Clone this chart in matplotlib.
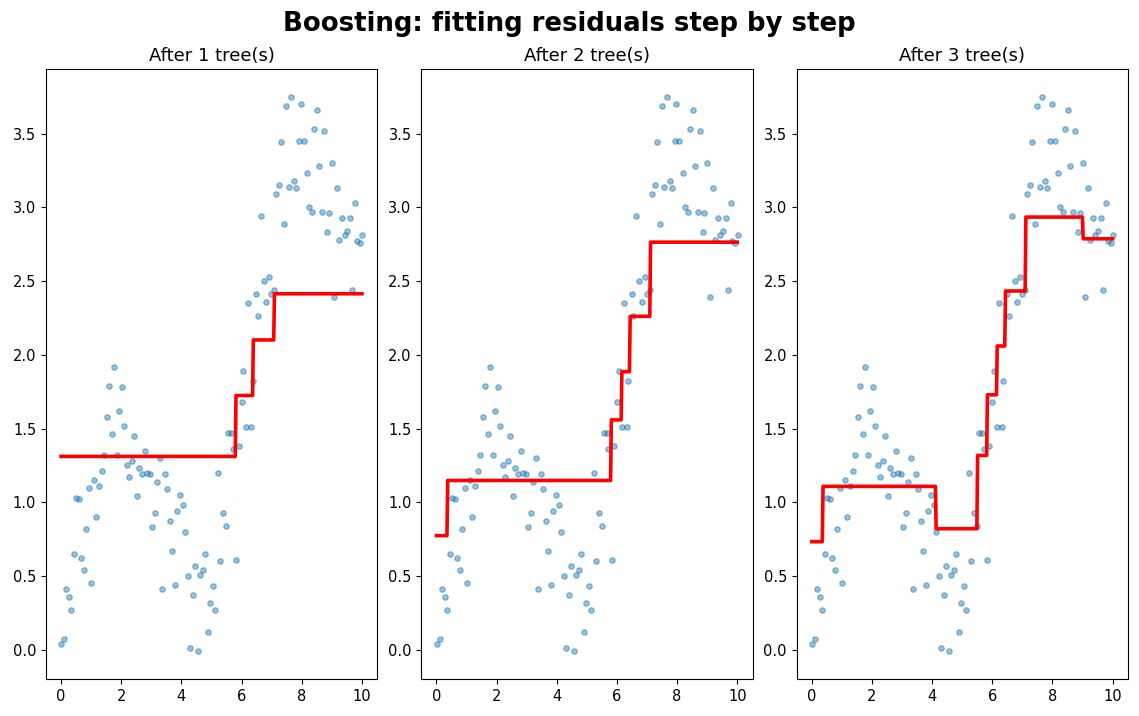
import numpy as np
import matplotlib
matplotlib.use("Agg")
import matplotlib.pyplot as plt

# scatter data
x_pts = [0.01, 0.11, 0.18, 0.28, 0.34, 0.44, 0.51, 0.61, 0.67, 0.77,
         0.84, 0.94, 1.01, 1.11, 1.17, 1.27, 1.37, 1.44, 1.54, 1.60,
         1.70, 1.77, 1.87, 1.94, 2.04, 2.10, 2.20, 2.27, 2.37, 2.44,
         2.53, 2.60, 2.70, 2.80, 2.87, 2.97, 3.03, 3.13, 3.20, 3.30,
         3.37, 3.47, 3.53, 3.63, 3.70, 3.80, 3.86, 3.96, 4.06, 4.13,
         4.23, 4.30, 4.40, 4.46, 4.56, 4.63, 4.73, 4.79, 4.89, 4.96,
         5.06, 5.13, 5.23, 5.29, 5.39, 5.49, 5.56, 5.66, 5.71, 5.82,
         5.90, 6.00, 6.06, 6.16, 6.22, 6.32, 6.37, 6.49, 6.55, 6.65,
         6.75, 6.82, 6.92, 6.99, 7.09, 7.15, 7.25, 7.32, 7.42, 7.49,
         7.58, 7.65, 7.75, 7.82, 7.92, 7.98, 8.08, 8.18, 8.25, 8.35,
         8.42, 8.52, 8.58, 8.68, 8.75, 8.85, 8.91, 9.01, 9.08, 9.18,
         9.25, 9.35, 9.43, 9.51, 9.61, 9.68, 9.78, 9.84, 9.94, 10.01]
y_pts = [0.04, 0.07, 0.41, 0.36, 0.27, 0.65, 1.03, 1.02, 0.62, 0.54,
         0.82, 1.10, 0.45, 1.15, 0.90, 1.11, 1.21, 1.32, 1.58, 1.79,
         1.46, 1.92, 1.32, 1.62, 1.78, 1.52, 1.25, 1.17, 1.28, 1.45,
         1.04, 1.23, 1.19, 1.35, 1.20, 1.19, 0.83, 0.93, 1.14, 1.30,
         0.41, 1.19, 1.09, 0.87, 0.67, 0.44, 0.94, 1.05, 0.98, 0.80,
         0.50, 0.01, 0.37, 0.57, -0.01, 0.51, 0.54, 0.65, 0.12, 0.32,
         0.43, 0.27, 1.20, 0.60, 0.93, 0.84, 1.47, 1.47, 1.36, 0.61,
         1.38, 1.68, 1.89, 1.51, 2.35, 1.51, 1.82, 2.41, 2.26, 2.94,
         2.50, 2.36, 2.53, 2.41, 2.44, 3.09, 3.15, 3.44, 2.89, 3.69,
         3.14, 3.75, 3.18, 3.13, 3.45, 3.70, 3.45, 3.23, 3.00, 2.97,
         3.53, 3.66, 3.28, 2.97, 3.52, 2.83, 2.96, 3.30, 2.39, 3.13,
         2.78, 2.93, 2.81, 2.84, 2.93, 2.44, 3.03, 2.77, 2.76, 2.81]

# ensemble prediction after each tree: split points and step levels
splits = [
    [5.80, 6.39, 7.09],
    [0.36, 5.80, 6.16, 6.44, 7.11],
    [0.36, 4.12, 5.49, 5.82, 6.15, 6.43, 7.11, 9.00],
]
levels = [
    [1.311, 1.724, 2.101, 2.414],
    [0.774, 1.148, 1.559, 1.886, 2.261, 2.764],
    [0.733, 1.108, 0.821, 1.318, 1.729, 2.060, 2.433, 2.934, 2.787],
]

grid = np.linspace(0, 10, 400)

fig, axes = plt.subplots(1, 3, figsize=(11.39, 7.16), dpi=100)
fig.subplots_adjust(left=0.0404, right=0.9903, top=0.9036, bottom=0.0517, wspace=0.133)

for i, ax in enumerate(axes):
    ax.scatter(x_pts, y_pts, s=15, alpha=0.45, color="C0")
    pred = np.array(levels[i])[np.searchsorted(splits[i], grid)]
    ax.plot(grid, pred, color="red", lw=2.6)
    ax.set_title(f"After {i + 1} tree(s)", fontsize=13)
    ax.tick_params(labelsize=10.5)

fig.suptitle("Boosting: fitting residuals step by step", fontsize=18.7, fontweight="bold", y=0.985)
fig.savefig("out.png")
